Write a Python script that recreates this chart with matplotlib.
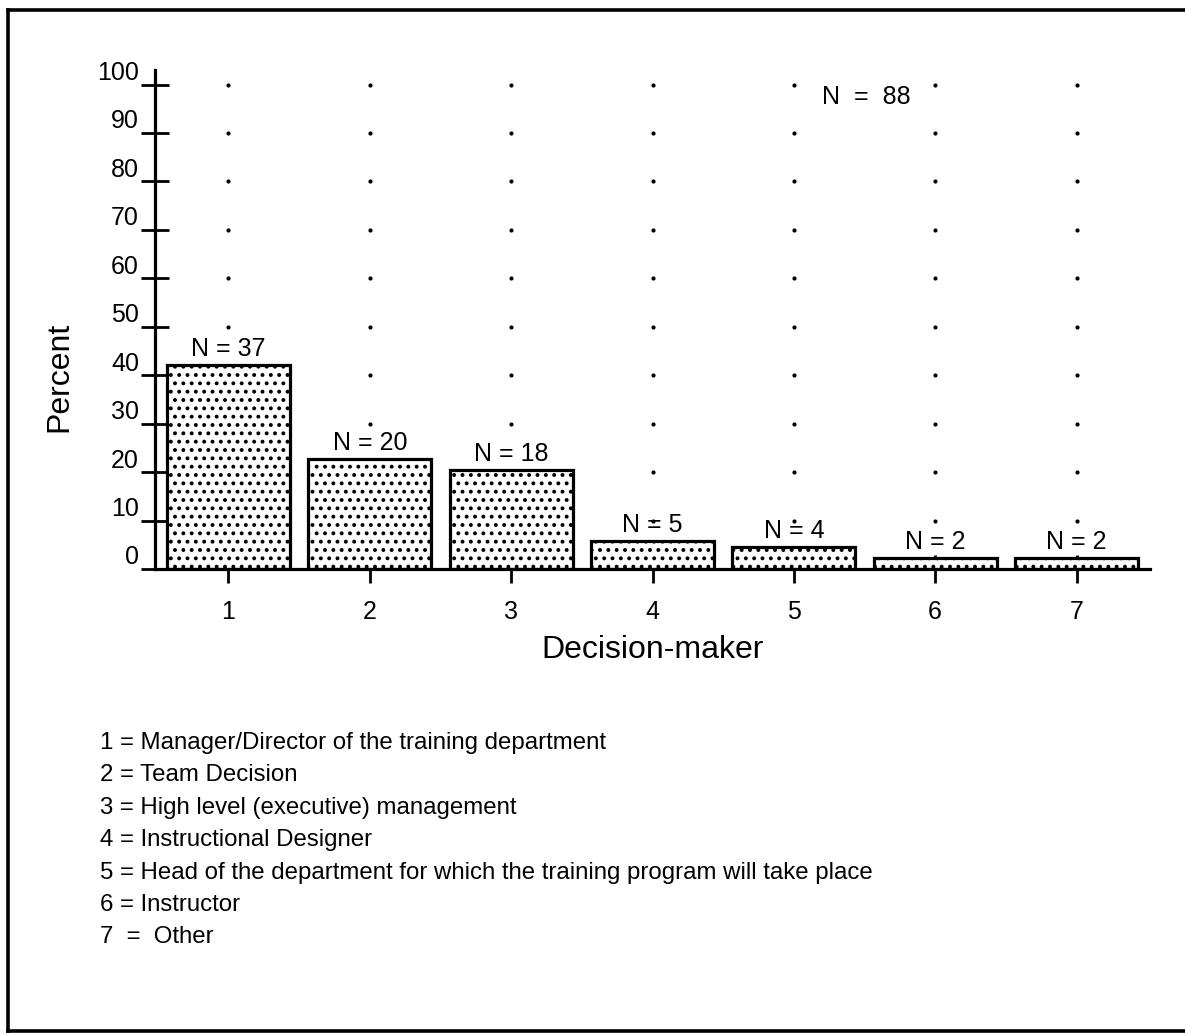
import matplotlib
matplotlib.use("Agg")
import matplotlib.pyplot as plt
import matplotlib.transforms as mtransforms
from matplotlib.lines import Line2D

plt.rcParams['font.family'] = ['Liberation Sans', 'DejaVu Sans']
plt.rcParams['hatch.linewidth'] = 1.6

# Survey results: who decides on the training programme
categories = [1, 2, 3, 4, 5, 6, 7]
counts = [37, 20, 18, 5, 4, 2, 2]
total_n = 88
percent = [c / total_n * 100 for c in counts]
y_ticks = [0, 10, 20, 30, 40, 50, 60, 70, 80, 90, 100]
key_lines = [
    "1 = Manager/Director of the training department",
    "2 = Team Decision",
    "3 = High level (executive) management",
    "4 = Instructional Designer",
    "5 = Head of the department for which the training program will take place",
    "6 = Instructor",
    "7  =  Other",
]

W, H = 1185, 1034
fig = plt.figure(figsize=(W / 100, H / 100), dpi=100)
ax = fig.add_axes([155 / W, 1 - 569 / H, 995 / W, (569 - 70) / H])

# dotted vertical guides at each category column
for x in categories:
    ax.scatter([x] * (len(y_ticks) - 1), y_ticks[1:], s=9, color='black',
               zorder=1, linewidths=0)

ax.bar(categories, percent, width=0.87, facecolor='white', edgecolor='black',
       linewidth=2.3, hatch='..', zorder=2)

for x, p, c in zip(categories, percent, counts):
    ax.annotate(f"N = {c}", (x, p), xytext=(0, 3), textcoords='offset points',
                ha='center', va='bottom', fontsize=18, zorder=3)

ax.set_xlim(0.48, 7.52)
ax.set_ylim(0, 103)
ax.set_xticks(categories)
ax.set_yticks(y_ticks)
ax.tick_params(axis='y', direction='inout', length=20, width=2, pad=1.5,
               labelsize=18)
ax.tick_params(axis='x', direction='inout', length=20, width=2, pad=12,
               labelsize=18)
for side in ('top', 'right'):
    ax.spines[side].set_visible(False)
for side in ('left', 'bottom'):
    ax.spines[side].set_linewidth(2.3)
ax.spines['bottom'].set_zorder(4)

# lift the y tick labels slightly above their ticks
shift = mtransforms.ScaledTranslation(0, 14 / 100, fig.dpi_scale_trans)
for lab in ax.get_yticklabels():
    lab.set_transform(lab.get_transform() + shift)

ax.set_ylabel("Percent", fontsize=23)
ax.yaxis.set_label_coords(-0.081, 0.385)
ax.set_xlabel("Decision-maker", fontsize=23, labelpad=8)

fig.text(822 / W, 1 - 97 / H, f"N  =  {total_n}", fontsize=18,
         ha='left', va='center')

for i, line in enumerate(key_lines):
    fig.text(100 / W, 1 - (743 + i * 32.4) / H, line, fontsize=17.3,
             ha='left', va='center')

# frame on the left, top and bottom
frame = dict(transform=fig.transFigure, color='black', linewidth=2.6,
             solid_capstyle='projecting')
fig.lines.append(Line2D([8 / W, 1], [1 - 10 / H, 1 - 10 / H], **frame))
fig.lines.append(Line2D([8 / W, 8 / W], [1 - 10 / H, 1 - 1031 / H], **frame))
fig.lines.append(Line2D([8 / W, 1], [1 - 1031 / H, 1 - 1031 / H], **frame))

fig.savefig("out.png", dpi=100)
